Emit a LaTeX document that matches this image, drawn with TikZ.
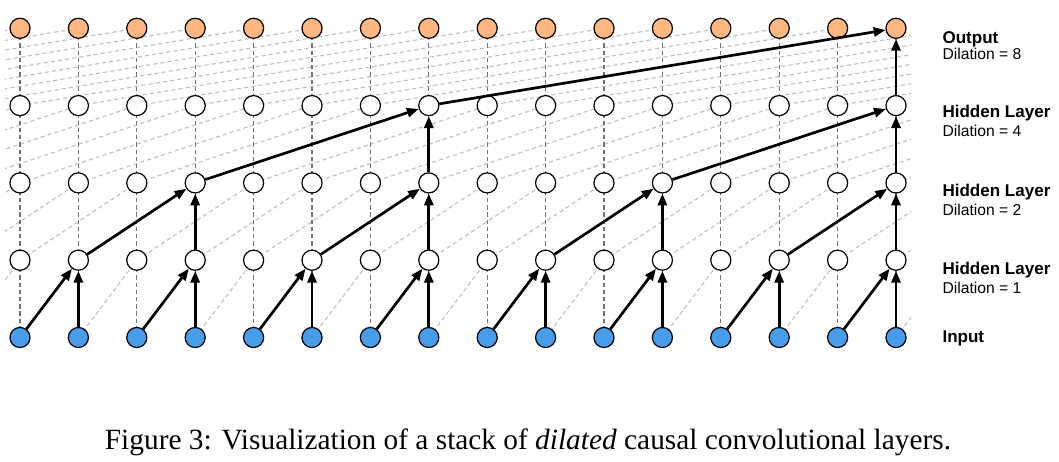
\documentclass[tikz,border=0pt]{standalone}
\usepackage{fontspec}
\setmainfont{Liberation Serif}
\newfontfamily\labelfont{Liberation Sans}
\usetikzlibrary{arrows.meta}
\definecolor{outorange}{RGB}{254,183,128}
\definecolor{inblue}{RGB}{72,157,235}

\begin{document}
\begin{tikzpicture}[x=0.373pt,y=-0.373pt,
	unit/.style={circle,draw=black,line width=0.45pt,minimum size=7.5pt,inner sep=0pt,fill=white},
	inunit/.style={unit,fill=inblue},
	outunit/.style={unit,fill=outorange},
	link/.style={draw=black!25,line width=0.4pt,dash pattern=on 1.6pt off 1.1pt},
	vlink/.style={draw=black!55,line width=0.4pt,dash pattern=on 1.6pt off 1.1pt},
	conv/.style={line width=1pt,-{Triangle[length=4.4pt,width=3.4pt]}},
	layername/.style={anchor=base west,inner sep=0pt,font=\labelfont\bfseries\fontsize{6.35}{8}\selectfont},
	dilname/.style={anchor=base west,inner sep=0pt,font=\labelfont\fontsize{5.85}{7}\selectfont}]
	\useasboundingbox (0,0) rectangle (1059,462);
	%========
	%Grid points
	%========
	\foreach \r in {0,...,4}
		\foreach \i in {-8,...,23}
			\coordinate (c-\r-\i) at ({20+58.4*\i},{337.5-77.3*\r});

	%========
	%Dashed links
	%========
	\begin{scope}
		\clip (5,0) rectangle (911,462);
		\foreach \r/\d in {0/1,1/2,2/4,3/8}{
			\pgfmathtruncatemacro\rr{\r+1}
			\foreach \i in {-8,...,15}{
				\pgfmathtruncatemacro\j{\i+\d}
				\draw[link] (c-\r-\i) -- (c-\rr-\j);	%dilated link
			}
		}
	\end{scope}
	\foreach \r in {0,...,3}{
		\pgfmathtruncatemacro\rr{\r+1}
		\foreach \i in {0,...,15}
			\draw[vlink] (c-\r-\i) -- (c-\rr-\i);	%same step
	}

	%========
	%Units
	%========
	\foreach \i in {0,...,15}{
		\node[inunit] (n-0-\i) at (c-0-\i) {};	%Input
		\node[unit] (n-1-\i) at (c-1-\i) {};	%Dilation 1
		\node[unit] (n-2-\i) at (c-2-\i) {};	%Dilation 2
		\node[unit] (n-3-\i) at (c-3-\i) {};	%Dilation 4
		\node[outunit] (n-4-\i) at (c-4-\i) {};	%Output
	}

	%========
	%Causal path
	%========
	\foreach \j in {1,3,...,15}{
		\pgfmathtruncatemacro\k{\j-1}
		\draw[conv] (n-0-\k) -- (n-1-\j);
		\draw[conv] (n-0-\j) -- (n-1-\j);
	}
	\foreach \j in {3,7,11,15}{
		\pgfmathtruncatemacro\k{\j-2}
		\draw[conv] (n-1-\k) -- (n-2-\j);
		\draw[conv] (n-1-\j) -- (n-2-\j);
	}
	\draw[conv] (n-2-3) -- (n-3-7);
	\draw[conv] (n-2-7) -- (n-3-7);
	\draw[conv] (n-2-11) -- (n-3-15);
	\draw[conv] (n-2-15) -- (n-3-15);
	\draw[conv] (n-3-7) -- (n-4-15);
	\draw[conv] (n-3-15) -- (n-4-15);

	%========
	%Labels
	%========
	\node[layername] (lbl-out) at (942,44) {Output};
	\node[dilname] (dil-out) at (942,60) {Dilation = 8};
	\node[layername] (lbl-h3) at (942,118) {Hidden Layer};
	\node[dilname] (dil-h3) at (942,137) {Dilation = 4};
	\node[layername] (lbl-h2) at (942,197) {Hidden Layer};
	\node[dilname] (dil-h2) at (942,216) {Dilation = 2};
	\node[layername] (lbl-h1) at (942,275) {Hidden Layer};
	\node[dilname] (dil-h1) at (942,294) {Dilation = 1};
	\node[layername] (lbl-in) at (942,343) {Input};

	\node[anchor=base,inner sep=0pt,font=\fontsize{10.95}{13}\selectfont] (caption) at (528,449)
		{Figure 3: Visualization of a stack of \textit{dilated} causal convolutional layers.};
\end{tikzpicture}
\end{document}
